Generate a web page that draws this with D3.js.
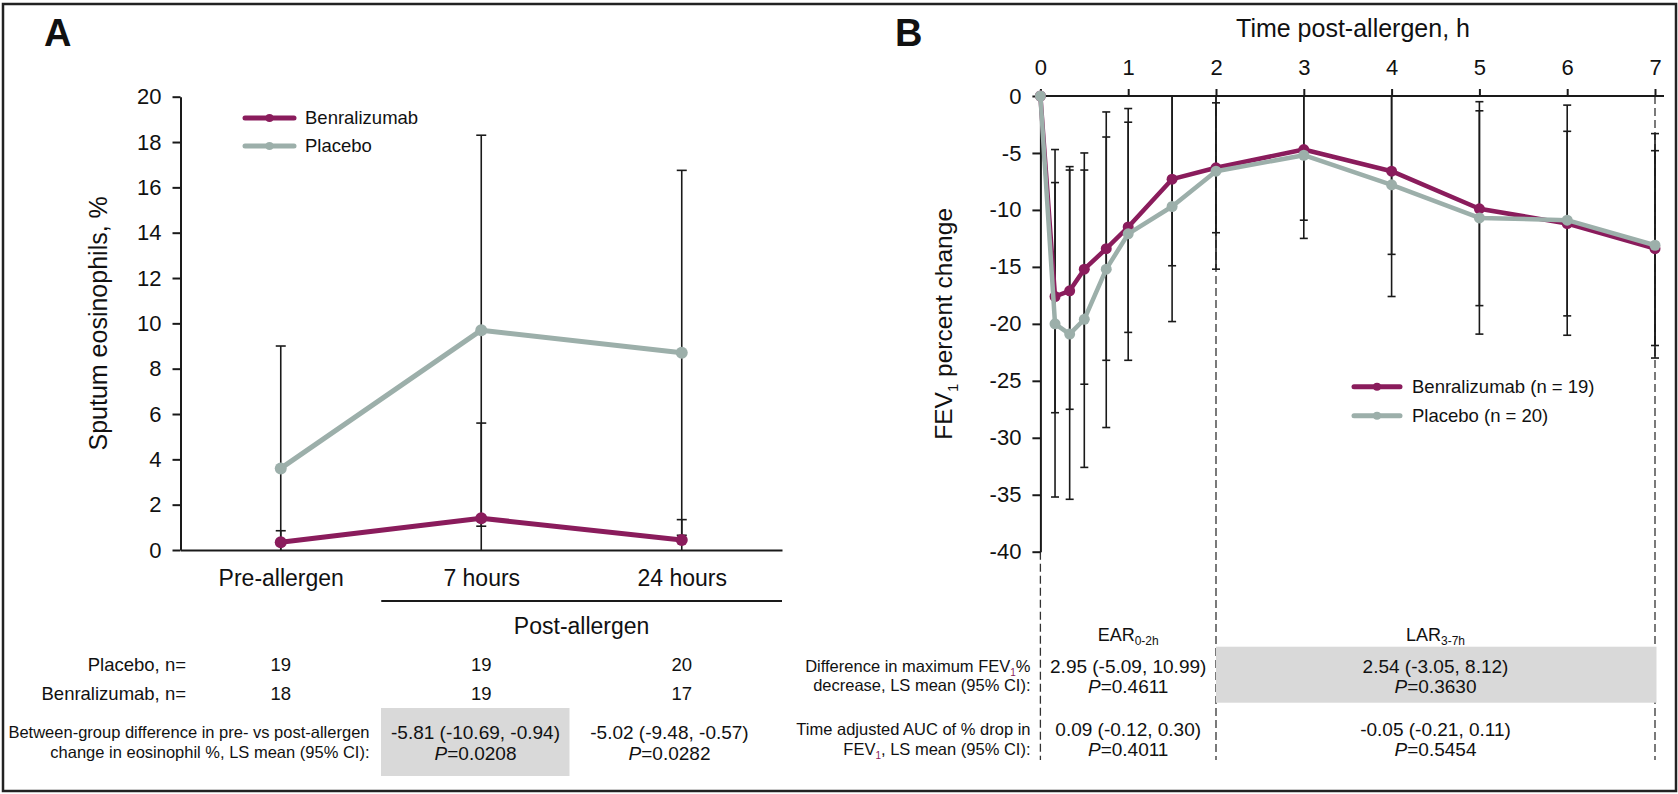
<!DOCTYPE html>
<html>
<head>
<meta charset="utf-8">
<script src="https://cdn.jsdelivr.net/npm/d3@7"></script>
<style>
  body { margin: 0; background: #fff; }
  svg { display: block; }
  text { font-family: "Liberation Sans", Arial, sans-serif; fill: #111; }
</style>
</head>
<body>
<svg id="chart" width="1678" height="794"></svg>
<script>
// ---------- panel A data: sputum eosinophils, %
const catsA = ["Pre-allergen", "7 hours", "24 hours"];
const benraA = [0.34, 1.4, 0.44];
const benraA_lo = [-0.17, -2.8, -0.46];
const benraA_hi = [0.85, 5.6, 1.34];
const placA = [3.6, 9.7, 8.7];
const placA_lo = [-1.8, 1.05, 0.65];
const placA_hi = [9.0, 18.3, 16.75];
const yTicksA = [0, 2, 4, 6, 8, 10, 12, 14, 16, 18, 20];
const nPlacA = [19, 19, 20];
const nBenA = [18, 19, 17];
const diffA = ["-5.81 (-10.69, -0.94)", "-5.02 (-9.48, -0.57)"];
const pA = ["0.0208", "0.0282"];

// ---------- panel B data: FEV1 percent change over time (h)
const timesB = [0, 1/6, 1/3, 0.5, 0.75, 1, 1.5, 2, 3, 4, 5, 6, 7];
const benraB = [0, -17.6, -17.1, -15.2, -13.4, -11.5, -7.3, -6.3, -4.7, -6.6, -9.9, -11.2, -13.4];
const benraB_lo = [null, -27.8, -27.5, -25.3, -23.2, -20.75, -14.9, -12.0, -10.9, -13.9, -18.4, -19.3, -21.9];
const benraB_hi = [null, -7.6, -6.5, -5.0, -3.6, -2.3, 0.3, -0.6, 1.5, 0.75, -1.3, -3.1, -4.8];
const placB = [0, -20.0, -20.9, -19.6, -15.2, -12.1, -9.7, -6.6, -5.2, -7.8, -10.7, -10.9, -13.1];
const placB_lo = [null, -35.2, -35.4, -32.6, -29.1, -23.2, -19.8, -15.2, -12.5, -17.6, -20.9, -21.0, -23.0];
const placB_hi = [null, -4.7, -6.2, -6.5, -1.4, -1.1, 0.4, 2.1, 2.1, 2.1, -0.5, -0.8, -3.3];
const xTicksB = [0, 1, 2, 3, 4, 5, 6, 7];
const yTicksB = [-40, -35, -30, -25, -20, -15, -10, -5, 0];
const maxDiffB = ["2.95 (-5.09, 10.99)", "2.54 (-3.05, 8.12)"];
const maxPB = ["0.4611", "0.3630"];
const aucDiffB = ["0.09 (-0.12, 0.30)", "-0.05 (-0.21, 0.11)"];
const aucPB = ["0.4011", "0.5454"];

const ink = "#1a1a1a";
const benCol = "#8a1c5c";
const plaCol = "#9cafaa";

const svg = d3.select("#chart");

// frame around both panels
svg.append("rect")
  .attr("x", 3).attr("y", 4).attr("width", 1673).attr("height", 787)
  .attr("fill", "none").attr("stroke", "#222").attr("stroke-width", 2.5);

function styleAxis(g, fs) {
  g.attr("font-family", null).attr("font-size", fs);
  g.selectAll("path, line").attr("stroke", ink).attr("stroke-width", 2);
  g.selectAll("text").attr("fill", "#111");
}

// vertical error bars, clipped at the plot edge (no cap where clipped)
function errBars(xs, lo, hi, x, y, capW) {
  const [d0, d1] = y.domain();
  const clamp = v => Math.max(d0, Math.min(d1, v));
  const rows = xs.map((t, i) => ({ t, lo: lo[i], hi: hi[i] })).filter(d => d.lo != null);
  const g = svg.append("g").attr("stroke", ink).attr("stroke-width", 1.6);
  g.selectAll("line.bar").data(rows).join("line")
    .attr("x1", d => x(d.t)).attr("x2", d => x(d.t))
    .attr("y1", d => y(clamp(d.lo))).attr("y2", d => y(clamp(d.hi)));
  const caps = rows.flatMap(d => [{ t: d.t, v: d.lo }, { t: d.t, v: d.hi }])
    .filter(c => c.v >= d0 && c.v <= d1);
  g.selectAll("line.cap").data(caps).join("line")
    .attr("x1", c => x(c.t) - capW).attr("x2", c => x(c.t) + capW)
    .attr("y1", c => y(c.v)).attr("y2", c => y(c.v));
}

function series(xs, vals, x, y, col, w, r) {
  const pts = xs.map((t, i) => [t, vals[i]]);
  svg.append("path").datum(pts)
    .attr("fill", "none").attr("stroke", col).attr("stroke-width", w)
    .attr("stroke-linejoin", "round")
    .attr("d", d3.line().x(d => x(d[0])).y(d => y(d[1])));
  svg.append("g").selectAll("circle").data(pts).join("circle")
    .attr("cx", d => x(d[0])).attr("cy", d => y(d[1])).attr("r", r).attr("fill", col);
}

function legend(items, x0, x1, tx, ys, fs) {
  items.forEach((it, i) => {
    svg.append("line").attr("x1", x0).attr("x2", x1).attr("y1", ys[i]).attr("y2", ys[i])
      .attr("stroke", it.col).attr("stroke-width", 5).attr("stroke-linecap", "round");
    svg.append("circle").attr("cx", (x0 + x1) / 2).attr("cy", ys[i]).attr("r", 4).attr("fill", it.col);
    svg.append("text").attr("x", tx).attr("y", ys[i]).attr("dy", "0.35em")
      .attr("font-size", fs).text(it.label);
  });
}

function txt(x, y, s, fs, anchor) {
  return svg.append("text").attr("x", x).attr("y", y).attr("dy", "0.35em")
    .attr("font-size", fs).attr("text-anchor", anchor || "middle").text(s);
}

function pText(x, y, p, fs) {
  const t = svg.append("text").attr("x", x).attr("y", y).attr("dy", "0.35em")
    .attr("font-size", fs).attr("text-anchor", "middle");
  t.append("tspan").attr("font-style", "italic").text("P");
  t.append("tspan").text("=" + p);
}

// ================= PANEL A =================
const xA = d3.scalePoint().domain(catsA).range([180.5, 782]).padding(0.5);
const yA = d3.scaleLinear().domain([0, 20]).range([550, 96.7]);

svg.append("text").attr("x", 44).attr("y", 46).attr("font-size", 38)
  .attr("font-weight", "bold").text("A");

const gyA = svg.append("g").attr("transform", "translate(180.5,0)")
  .call(d3.axisLeft(yA).tickValues(yTicksA).tickFormat(d => String(d))
    .tickSize(8).tickPadding(11).tickSizeOuter(0));
styleAxis(gyA, 22);

const gxA = svg.append("g").attr("transform", "translate(0,550)")
  .call(d3.axisBottom(xA).tickSize(0).tickPadding(20).tickSizeOuter(0));
styleAxis(gxA, 23);

svg.append("text")
  .attr("transform", `translate(107,${(yA(0) + yA(20)) / 2}) rotate(-90)`)
  .attr("text-anchor", "middle").attr("font-size", 25)
  .text("Sputum eosinophils, %");

errBars(catsA, placA_lo, placA_hi, xA, yA, 5);
errBars(catsA, benraA_lo, benraA_hi, xA, yA, 5);
series(catsA, benraA, xA, yA, benCol, 5, 6);
series(catsA, placA, xA, yA, plaCol, 5, 6);

legend([{ label: "Benralizumab", col: benCol }, { label: "Placebo", col: plaCol }],
  245, 294, 305, [118, 146], 18.5);

// post-allergen bracket
svg.append("line").attr("x1", xA("7 hours") - 100).attr("x2", 782)
  .attr("y1", 601).attr("y2", 601).attr("stroke", ink).attr("stroke-width", 2);
txt((xA("7 hours") - 100 + 782) / 2, 626, "Post-allergen", 23);

// table A
txt(186, 665, "Placebo, n=", 18.5, "end");
txt(186, 694, "Benralizumab, n=", 18.5, "end");
catsA.forEach((c, i) => {
  txt(xA(c), 665, String(nPlacA[i]), 18.5);
  txt(xA(c), 694, String(nBenA[i]), 18.5);
});
svg.append("rect").attr("x", 381).attr("y", 708).attr("width", 188.5).attr("height", 68)
  .attr("fill", "#d9d9d9");
txt(369.5, 732, "Between-group difference in pre- vs post-allergen", 16.5, "end");
txt(369.5, 752.5, "change in eosinophil %, LS mean (95% CI):", 16.5, "end");
[475.5, 669.5].forEach((cx, i) => {
  txt(cx, 732, diffA[i], 19);
  pText(cx, 753, pA[i], 19);
});

// ================= PANEL B =================
const xB = d3.scaleLinear().domain([0, 7]).range([1040.4, 1655]);
const yB = d3.scaleLinear().domain([-40, 0]).range([551.7, 96]);

svg.append("text").attr("x", 895).attr("y", 46).attr("font-size", 38)
  .attr("font-weight", "bold").text("B");

svg.append("text").attr("x", 1353).attr("y", 28).attr("dy", "0.35em")
  .attr("text-anchor", "middle").attr("font-size", 25).text("Time post-allergen, h");

// dashed phase separators
const dashG = svg.append("g").attr("stroke", "#333").attr("stroke-width", 1.3)
  .attr("stroke-dasharray", "8,4");
dashG.append("line").attr("x1", xB(0)).attr("x2", xB(0)).attr("y1", yB(-40)).attr("y2", 760);
[2, 7].forEach(t => dashG.append("line").attr("x1", xB(t)).attr("x2", xB(t))
  .attr("y1", yB(0)).attr("y2", 760));

const gxB = svg.append("g").attr("transform", `translate(0,${yB(0)})`)
  .call(d3.axisTop(xB).tickValues(xTicksB).tickFormat(d => String(d))
    .tickSize(7).tickPadding(14).tickSizeOuter(0));
styleAxis(gxB, 22);
gxB.select(".domain").remove();
svg.append("line").attr("x1", xB(0)).attr("x2", xB(7) + 9)
  .attr("y1", yB(0)).attr("y2", yB(0)).attr("stroke", ink).attr("stroke-width", 2);

const gyB = svg.append("g").attr("transform", `translate(${xB(0)},0)`)
  .call(d3.axisLeft(yB).tickValues(yTicksB).tickFormat(d => String(d))
    .tickSize(8).tickPadding(11).tickSizeOuter(0));
styleAxis(gyB, 22);

const yLabB = svg.append("text")
  .attr("transform", `translate(952,${(yB(0) + yB(-40)) / 2}) rotate(-90)`)
  .attr("text-anchor", "middle").attr("font-size", 24.5);
yLabB.append("tspan").text("FEV");
yLabB.append("tspan").attr("font-size", 15).attr("dy", 6).text("1");
yLabB.append("tspan").attr("dy", -6).text(" percent change");

errBars(timesB, benraB_lo, benraB_hi, xB, yB, 4);
errBars(timesB, placB_lo, placB_hi, xB, yB, 4);
series(timesB, benraB, xB, yB, benCol, 4.5, 5.5);
series(timesB, placB, xB, yB, plaCol, 4.5, 5.5);

legend([{ label: "Benralizumab (n = 19)", col: benCol }, { label: "Placebo (n = 20)", col: plaCol }],
  1354, 1400, 1412, [386.7, 415.7], 18.5);

// table B
const earX = xB(1), larX = xB(4.5);
const ear = svg.append("text").attr("x", earX).attr("y", 635).attr("dy", "0.35em")
  .attr("text-anchor", "middle").attr("font-size", 18);
ear.append("tspan").text("EAR");
ear.append("tspan").attr("font-size", 12).attr("dy", 4).text("0-2h");
const lar = svg.append("text").attr("x", larX).attr("y", 635).attr("dy", "0.35em")
  .attr("text-anchor", "middle").attr("font-size", 18);
lar.append("tspan").text("LAR");
lar.append("tspan").attr("font-size", 12).attr("dy", 4).text("3-7h");

svg.append("rect").attr("x", xB(2)).attr("y", 646.7).attr("width", xB(7) + 1.5 - xB(2))
  .attr("height", 56).attr("fill", "#d9d9d9");

const r1 = svg.append("text").attr("x", 1030.5).attr("y", 666).attr("dy", "0.35em")
  .attr("text-anchor", "end").attr("font-size", 16.5);
r1.append("tspan").text("Difference in maximum FEV");
r1.append("tspan").attr("font-size", 10).attr("dy", 4).attr("fill", benCol).text("1");
r1.append("tspan").attr("dy", -4).text("%");
txt(1030.5, 685.5, "decrease, LS mean (95% CI):", 16.5, "end");
txt(1030.5, 729.5, "Time adjusted AUC of % drop in", 16.5, "end");
const r2 = svg.append("text").attr("x", 1030.5).attr("y", 749).attr("dy", "0.35em")
  .attr("text-anchor", "end").attr("font-size", 16.5);
r2.append("tspan").text("FEV");
r2.append("tspan").attr("font-size", 10).attr("dy", 4).attr("fill", benCol).text("1");
r2.append("tspan").attr("dy", -4).text(", LS mean (95% CI):");

[earX, larX].forEach((cx, i) => {
  txt(cx, 666, maxDiffB[i], 19);
  pText(cx, 686, maxPB[i], 19);
  txt(cx, 729.5, aucDiffB[i], 19);
  pText(cx, 749.5, aucPB[i], 19);
});
</script>
</body>
</html>
